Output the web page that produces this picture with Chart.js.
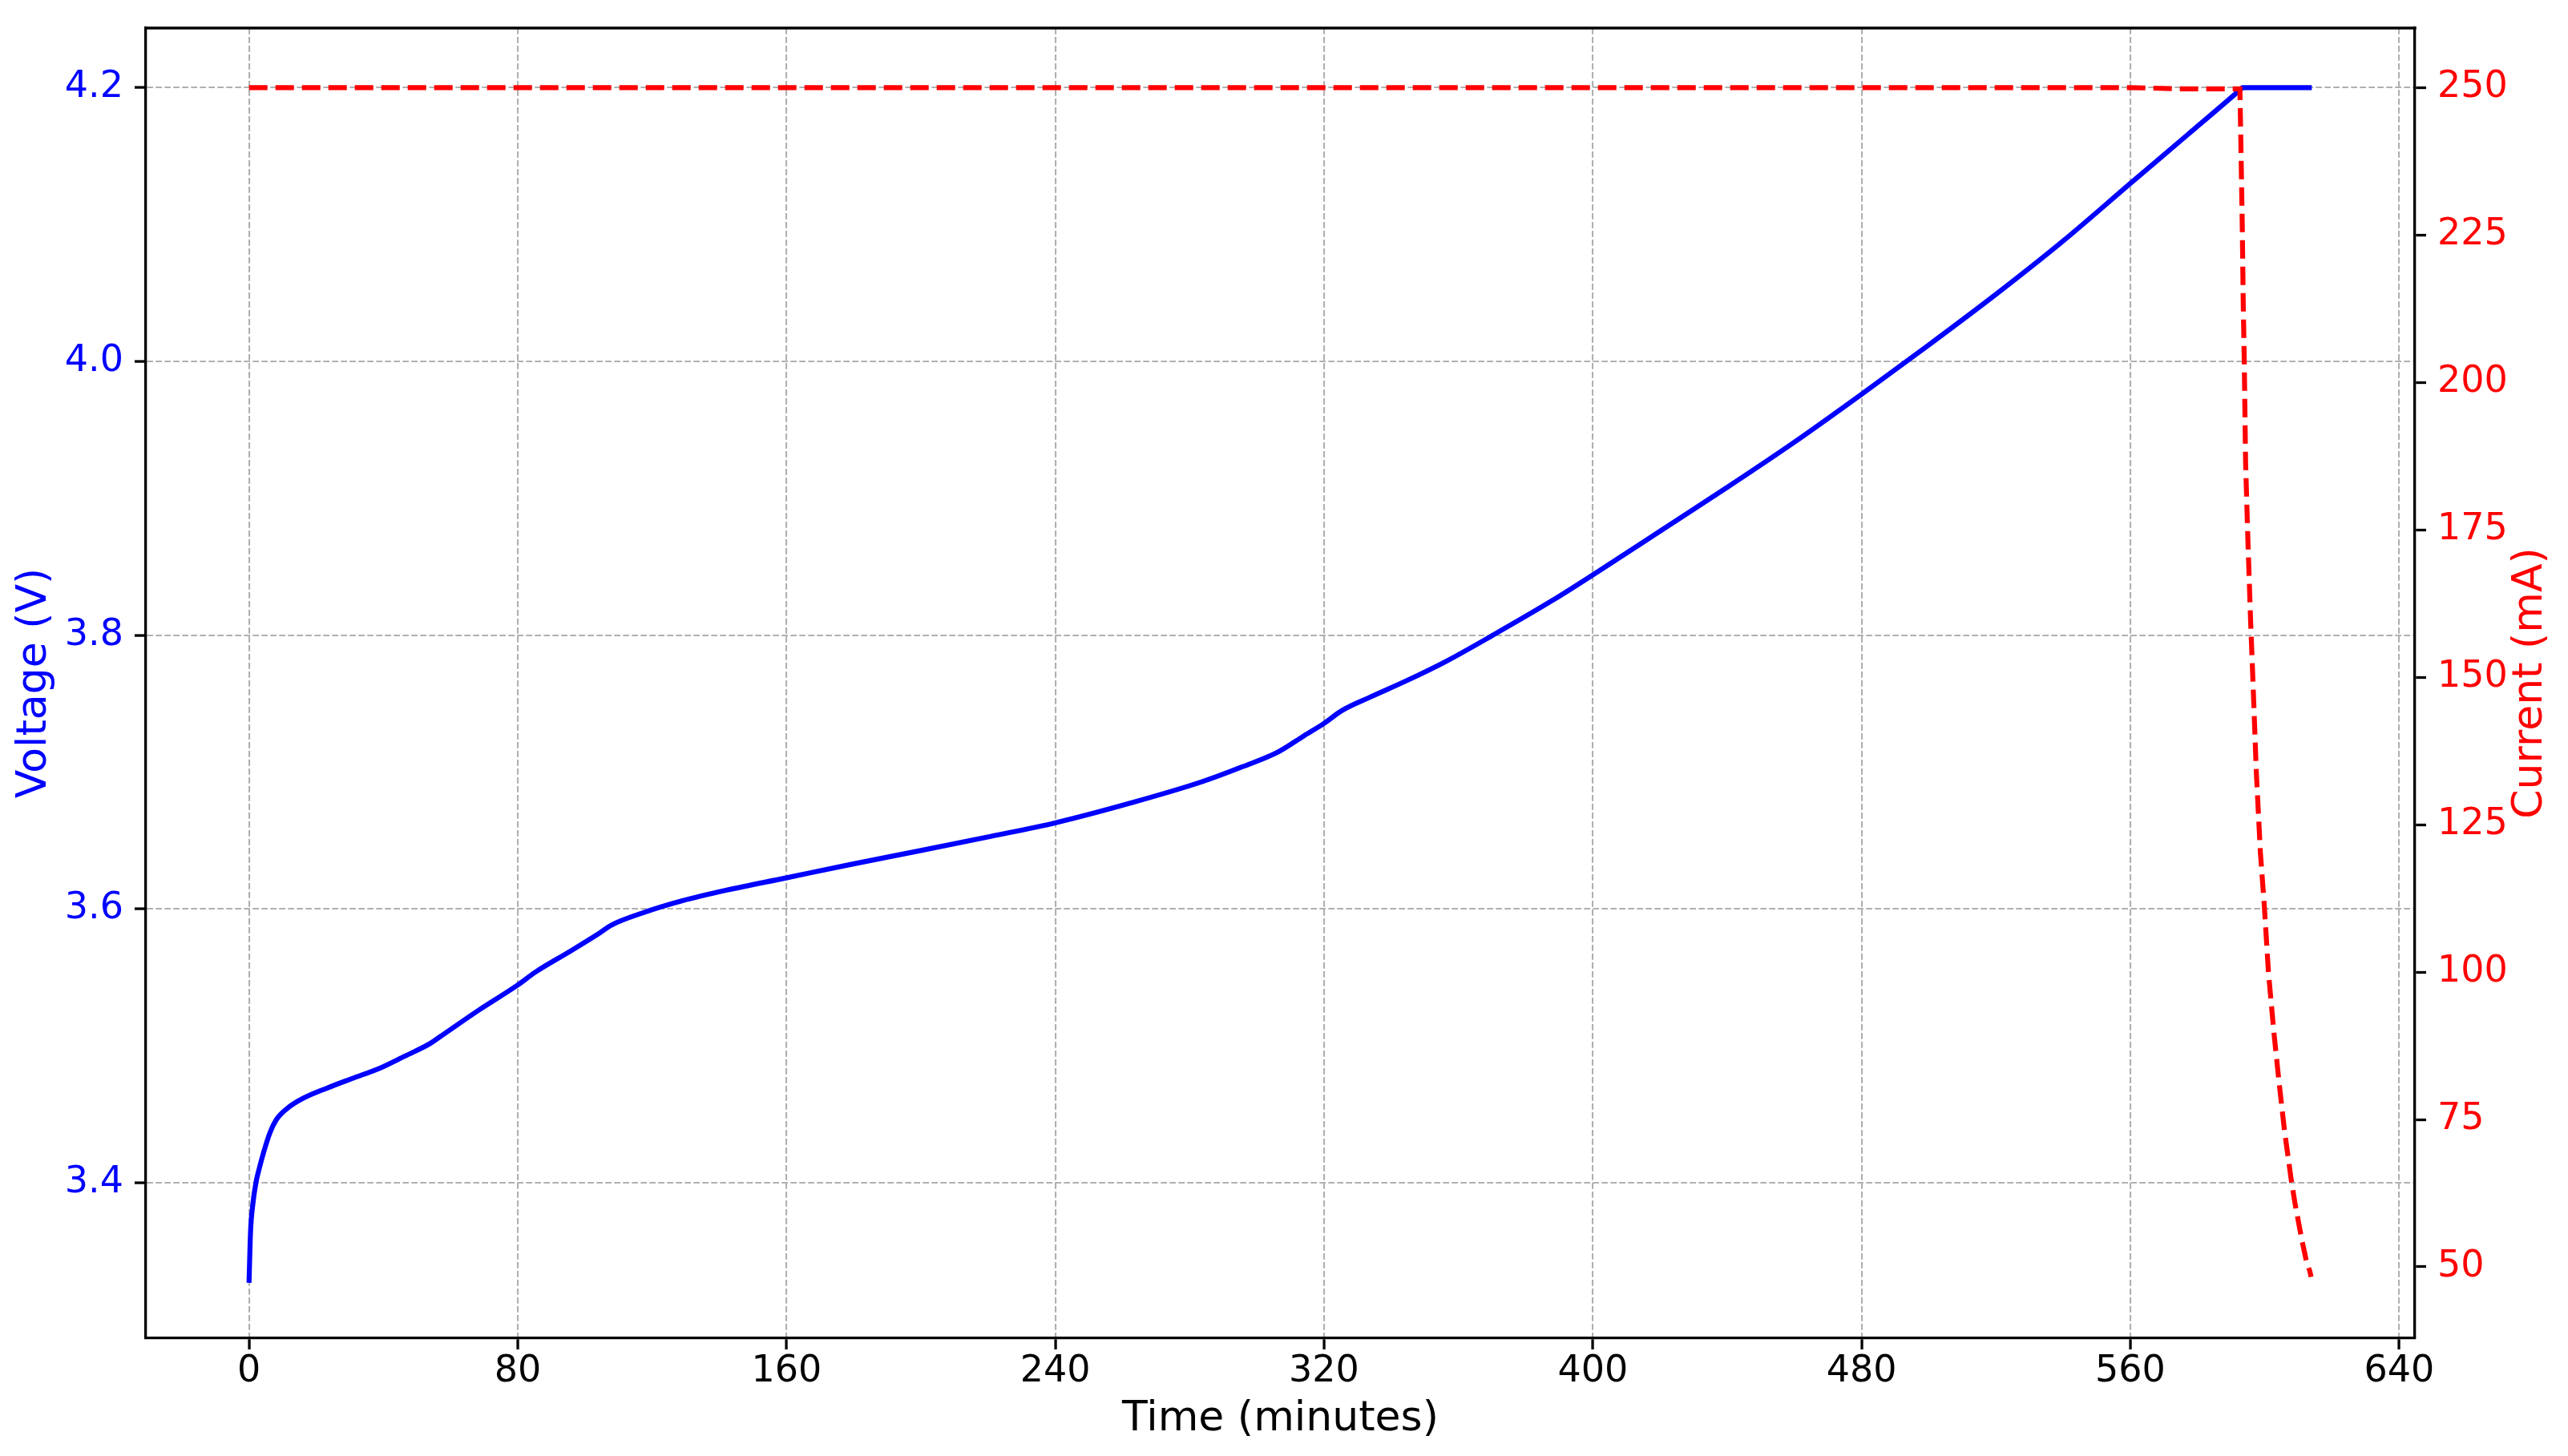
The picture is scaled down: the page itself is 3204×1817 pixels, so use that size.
<!DOCTYPE html>
<html>
<head>
<meta charset="utf-8">
<title>Charging curve</title>
<script src="https://cdn.jsdelivr.net/npm/chart.js@4.4.1/dist/chart.umd.min.js"></script>
<style>
  html, body { margin: 0; padding: 0; overflow: hidden; background: #fff; }
  canvas { display: block; }
</style>
</head>
<body>
<canvas id="myChart" width="3204" height="1817"></canvas>
<script>
// voltage trace (minutes, volts)
const voltTime = [0, 0.47, 1.07, 2.05, 3.0, 4.5, 6.3, 8.1, 11.2, 16.0,
  23.4, 30.7, 39.2, 46.5, 53.8, 56.9, 68.6, 79.8, 85.3, 95.3,
  103.7, 107.9, 117.1, 128.8, 142.2, 159.8, 179.0, 199.1, 220.8, 239.9,
  262.7, 283.6, 295.8, 306.4, 314.0, 319.8, 325.4, 333.8, 344.4, 356.6,
  370.3, 388.5, 402.8, 420.0, 440.0, 460.0, 480.0, 500.0, 520.0, 540.0,
  560.0, 577.0, 592.8, 593.4, 614.0];
const voltage = [3.327, 3.365, 3.383, 3.400, 3.410, 3.4235, 3.437, 3.446, 3.454, 3.4616,
  3.4694, 3.4762, 3.4840, 3.4927, 3.5016, 3.5068, 3.5265, 3.5442, 3.5540, 3.5687,
  3.5814, 3.5883, 3.5971, 3.6059, 3.6138, 3.6227, 3.6325, 3.6423, 3.6531, 3.6629,
  3.6776, 3.6929, 3.704, 3.7148, 3.7265, 3.7353, 3.7451, 3.7549, 3.7666, 3.7813,
  3.8001, 3.8262, 3.8485, 3.876, 3.908, 3.941, 3.976, 4.012, 4.049, 4.088,
  4.130, 4.1655, 4.1987, 4.2, 4.2];

// current trace (minutes, mA)
const currTime = [0, 560, 575, 592.6, 592.9, 593.3, 593.6, 593.9, 594.3, 595.0,
  595.8, 596.4, 597.5, 598.7, 599.9, 601.1, 602.7, 604.3, 605.9, 607.9,
  609.0, 611.0, 612.5, 613.4, 613.8];
const current = [250, 250, 249.8, 249.8, 240.5, 227, 213.5, 203.7, 186.4, 173,
  159.4, 150.7, 133.8, 120.3, 111, 100, 89.9, 81.1, 73, 64.7,
  60.8, 54.7, 50.7, 49.3, 48.3];

// tick values
const timeTicks = [0, 80, 160, 240, 320, 400, 480, 560, 640];
const voltTicks = [3.4, 3.6, 3.8, 4.0, 4.2];
const currTicks = [50, 75, 100, 125, 150, 175, 200, 225, 250];

Chart.defaults.font.family = '"DejaVu Sans", sans-serif';

const GRID = '#b0b0b0';
const SPINE = 3.3;

function pairs(xs, ys) {
    return xs.map((x, i) => ({ x: x, y: ys[i] }));
}

function setTicks(values) {
    return function (scale) {
        scale.ticks = values.map(v => ({ value: v }));
    };
}

// top spine + right-hand label (matplotlib reads it bottom-to-top)
const framePlugin = {
    id: 'frame',
    afterDraw(chart) {
        const { ctx, chartArea: a } = chart;
        ctx.save();
        ctx.strokeStyle = '#000';
        ctx.lineWidth = SPINE;
        ctx.beginPath();
        ctx.moveTo(a.left - SPINE / 2, a.top);
        ctx.lineTo(a.right + SPINE / 2, a.top);
        ctx.stroke();

        ctx.translate(chart.scales.y1.right - 47, (a.top + a.bottom) / 2);
        ctx.rotate(-Math.PI / 2);
        ctx.fillStyle = '#ff0000';
        ctx.font = '52px "DejaVu Sans"';
        ctx.textAlign = 'center';
        ctx.textBaseline = 'middle';
        ctx.fillText('Current (mA)', 0, 0);
        ctx.restore();
    }
};

new Chart('myChart', {
    type: 'line',
    data: {
        datasets: [{
            label: 'Current',
            data: pairs(currTime, current),
            yAxisID: 'y1',
            borderColor: '#ff0000',
            borderWidth: 6.2,
            borderDash: [23, 10],
            borderCapStyle: 'butt',
            pointRadius: 0,
            tension: 0,
            fill: false
        }, {
            label: 'Voltage',
            data: pairs(voltTime, voltage),
            yAxisID: 'y',
            borderColor: '#0000ff',
            borderWidth: 6.2,
            borderJoinStyle: 'round',
            pointRadius: 0,
            cubicInterpolationMode: 'monotone',
            fill: false
        }]
    },
    options: {
        responsive: false,
        devicePixelRatio: 1,
        animation: false,
        layout: { padding: { top: 35, left: 0, right: 0, bottom: 0 } },
        plugins: {
            legend: { display: false },
            tooltip: { enabled: false }
        },
        scales: {
            x: {
                type: 'linear',
                min: -30.7,
                max: 644.7,
                afterBuildTicks: setTicks(timeTicks),
                afterFit: (s) => { s.height = 147; s.paddingLeft = 0; s.paddingRight = 0; },
                ticks: {
                    color: '#000',
                    padding: 0,
                    font: { size: 46 },
                    callback: (v) => String(v)
                },
                grid: {
                    color: GRID,
                    lineWidth: 2.1,
                    tickLength: 14,
                    tickColor: '#000',
                    tickWidth: SPINE
                },
                border: { display: true, color: '#000', width: SPINE, dash: [7.7, 3.3] },
                title: {
                    display: true,
                    text: 'Time (minutes)',
                    color: '#000',
                    font: { size: 52 },
                    padding: { top: 0, bottom: 14 }
                }
            },
            y: {
                type: 'linear',
                position: 'left',
                min: 3.2865,
                max: 4.2435,
                afterBuildTicks: setTicks(voltTicks),
                afterFit: (s) => { s.width = 182; s.paddingTop = 0; s.paddingBottom = 0; },
                ticks: {
                    color: '#0000ff',
                    padding: 14,
                    font: { size: 46 },
                    callback: (v) => v.toFixed(1)
                },
                grid: {
                    color: GRID,
                    lineWidth: 2.1,
                    tickLength: 14,
                    tickColor: '#000',
                    tickWidth: SPINE
                },
                border: { display: true, color: '#000', width: SPINE, dash: [7.7, 3.3] },
                title: {
                    display: true,
                    text: 'Voltage (V)',
                    color: '#0000ff',
                    font: { size: 52 },
                    padding: { top: 12.5, bottom: 0 }
                }
            },
            y1: {
                type: 'linear',
                position: 'right',
                min: 37.9,
                max: 260.1,
                afterBuildTicks: setTicks(currTicks),
                afterFit: (s) => { s.width = 191; s.paddingTop = 0; s.paddingBottom = 0; },
                ticks: {
                    color: '#ff0000',
                    padding: 14,
                    font: { size: 46 },
                    callback: (v) => String(v)
                },
                grid: {
                    drawOnChartArea: false,
                    tickLength: 14,
                    tickColor: '#000',
                    tickWidth: SPINE
                },
                border: { display: true, color: '#000', width: SPINE }
            }
        }
    },
    plugins: [framePlugin]
});
</script>
</body>
</html>
